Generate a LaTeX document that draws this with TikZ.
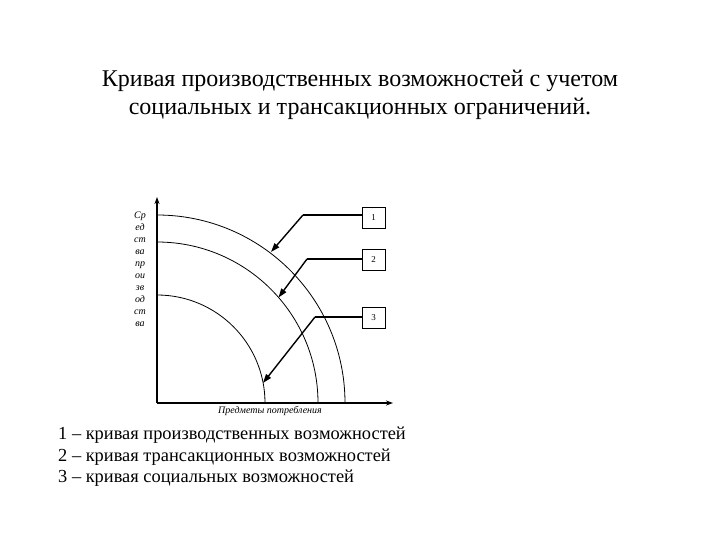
\documentclass[tikz,border=0pt]{standalone}
\usepackage{fontspec}
\setmainfont{Liberation Serif}
\usetikzlibrary{arrows.meta}
\begin{document}
\begin{tikzpicture}[x=1pt,y=-1pt,
  curve/.style={line width=0.8pt},
  axis/.style={line width=1.6pt,-{Stealth[length=7pt,width=5pt]}},
  leader/.style={line width=1.4pt},
  pointer/.style={line width=1.4pt,-{Triangle[length=9pt,width=6pt]}},
  numbox/.style={draw,line width=0.8pt,minimum width=23pt,minimum height=21pt,inner sep=0pt,font=\fontsize{9}{9}\selectfont},
  titletext/.style={font=\fontsize{24}{28}\selectfont,align=center},
  legendtext/.style={font=\fontsize{18.4}{21.5}\selectfont,align=left,anchor=north west,inner sep=0pt},
  ylab/.style={font=\fontsize{10}{12}\selectfont\itshape,align=center,inner sep=0pt},
  xlab/.style={font=\fontsize{10}{11}\selectfont\itshape,inner sep=0pt},
]
\useasboundingbox (0,0) rectangle (720,540);
\node[titletext] (title) at (360,95) {Кривая производственных возможностей с учетом\\социальных и трансакционных ограничений.};
\coordinate (O) at (157,403);
\coordinate (ytop) at (157,197);
\coordinate (xend) at (393,403);
\draw[axis] (O) -- (ytop);
\draw[axis] (O) -- (xend);
% curves
\draw[curve] (157,215) arc[start angle=-90,end angle=0,radius=188];
\draw[curve] (157,242) arc[start angle=-90,end angle=0,radius=161];
\draw[curve] (157,295) arc[start angle=-90,end angle=0,radius=108];
% boxes
\node[numbox] (b1) at (373.5,217.5) {1};
\node[numbox] (b2) at (373.5,260) {2};
\node[numbox] (b3) at (373.5,317.5) {3};
% bends and tips
\coordinate (k1) at (303,215);
\coordinate (k2) at (307,259);
\coordinate (k3) at (315,317);
\coordinate (t1) at (271,252);
\coordinate (t2) at (278.5,297.5);
\coordinate (t3) at (263,383);
\draw[leader] (b1.west |- k1) -- (k1);
\draw[leader] (b2.west |- k2) -- (k2);
\draw[leader] (b3.west |- k3) -- (k3);
\draw[pointer] (k1) -- (t1);
\draw[pointer] (k2) -- (t2);
\draw[pointer] (k3) -- (t3);
% axis labels
\node[ylab] (ylabel) at (140,269) {Ср\\ед\\ст\\ва\\пр\\ои\\зв\\од\\ст\\ва};
\node[xlab] (xlabel) at (270,411) {Предметы потребления};
% legend
\node[legendtext] (legend) at (58,427) {1 – кривая производственных возможностей\\2 – кривая трансакционных возможностей\\3 – кривая социальных возможностей};
\end{tikzpicture}
\end{document}
